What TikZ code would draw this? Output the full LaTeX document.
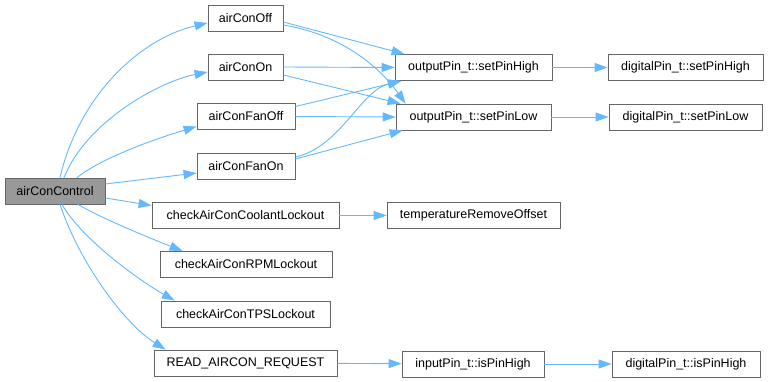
\documentclass[tikz,border=0pt]{standalone}
\usepackage{fontspec}
\setmainfont{Liberation Sans}
\usetikzlibrary{arrows.meta}
\definecolor{CallEdge}{HTML}{63B8FF}
\definecolor{BoxLine}{HTML}{666666}
\definecolor{FocusBack}{HTML}{999999}
\tikzset{>={Triangle[length=13pt,width=9pt]},every node/.style={font=\fontsize{12.5}{14}\selectfont},
 fn/.style={draw=BoxLine,fill=white,minimum height=26pt,inner sep=2pt,line width=0.8pt},
 focus/.style={fn,fill=FocusBack},call/.style={draw=CallEdge,->,line width=0.9pt}}
\begin{document}
\begin{tikzpicture}[x=1pt,y=-1pt]
\useasboundingbox (0,0) rectangle (769,382);
\node[focus,minimum width=100pt] (ctrl) at (55,191) {airConControl};
\foreach \n/\x/\y/\w/\t in {off/245.5/18/75/airConOff,on/245.5/67/75/airConOn,
 fanoff/246/116.5/98/airConFanOff,fanon/246/166/98/airConFanOn,
 cool/245.5/215.5/187/checkAirConCoolantLockout,rpm/246/264.5/172/checkAirConRPMLockout,
 tps/245.5/314/169/checkAirConTPSLockout,read/245.5/363/183/READ\_AIRCON\_REQUEST,
 sph/473.5/67.5/157/outputPin\_t::setPinHigh,spl/473.5/117/155/outputPin\_t::setPinLow,
 dph/685.5/67.5/155/digitalPin\_t::setPinHigh,dpl/685.5/117/153/digitalPin\_t::setPinLow,
 tro/473.5/215.5/173/temperatureRemoveOffset,iph/473/364/142/inputPin\_t::isPinHigh,
 dih/686/364/148/digitalPin\_t::isPinHigh}
 \node[fn,minimum width=\w pt] (\n) at (\x,\y) {\t};
% calls out of airConControl
\draw[call] ([xshift=5pt]ctrl.north) .. controls +(20,-85) and +(-65,15) .. ([yshift=-5pt]off.west);
\draw[call] ([xshift=9pt]ctrl.north) .. controls +(22,-55) and +(-50,10) .. ([yshift=-5pt]on.west);
\draw[call] ([xshift=22pt]ctrl.north) .. controls +(25,-20) and +(-40,12) .. ([yshift=-10pt]fanoff.west);
\draw[call] ([yshift=7pt]ctrl.east) -- ([yshift=-7pt]fanon.west);
\draw[call] ([yshift=-7pt]ctrl.east) -- ([yshift=10pt]cool.west);
\draw[call] ([xshift=23pt]ctrl.south) .. controls +(25,15) and +(-25,-10) .. ([xshift=23pt]rpm.north west);
\draw[call] ([xshift=7pt]ctrl.south) .. controls +(20,35) and +(-35,-20) .. ([xshift=14pt]tps.north west);
\draw[call] ([xshift=5pt]ctrl.south) .. controls +(20,60) and +(-40,-25) .. ([xshift=12pt]read.north west);
% pin calls
\draw[call] ([yshift=-4pt]off.east) -- ([xshift=10pt]sph.north west);
\draw[call] ([yshift=-7pt]off.east) .. controls +(60,10) and +(-25,-35) .. ([xshift=10pt]spl.north west);
\draw[call] (on.east) -- (sph.west);
\draw[call] ([yshift=-8pt]on.east) -- ([xshift=5pt]spl.north west);
\draw[call] ([yshift=10pt]fanoff.east) -- ([xshift=7pt]sph.south west);
\draw[call] (fanoff.east) -- (spl.west);
\draw[call] ([yshift=9pt]fanon.east) .. controls +(45,-10) and +(-40,10) .. ([xshift=6pt]sph.south west);
\draw[call] ([yshift=7pt]fanon.east) -- ([xshift=7pt]spl.south west);
\foreach \a/\b in {sph/dph,spl/dpl,cool/tro,read/iph,iph/dih}
 \draw[call] (\a) -- (\b);
\end{tikzpicture}
\end{document}
